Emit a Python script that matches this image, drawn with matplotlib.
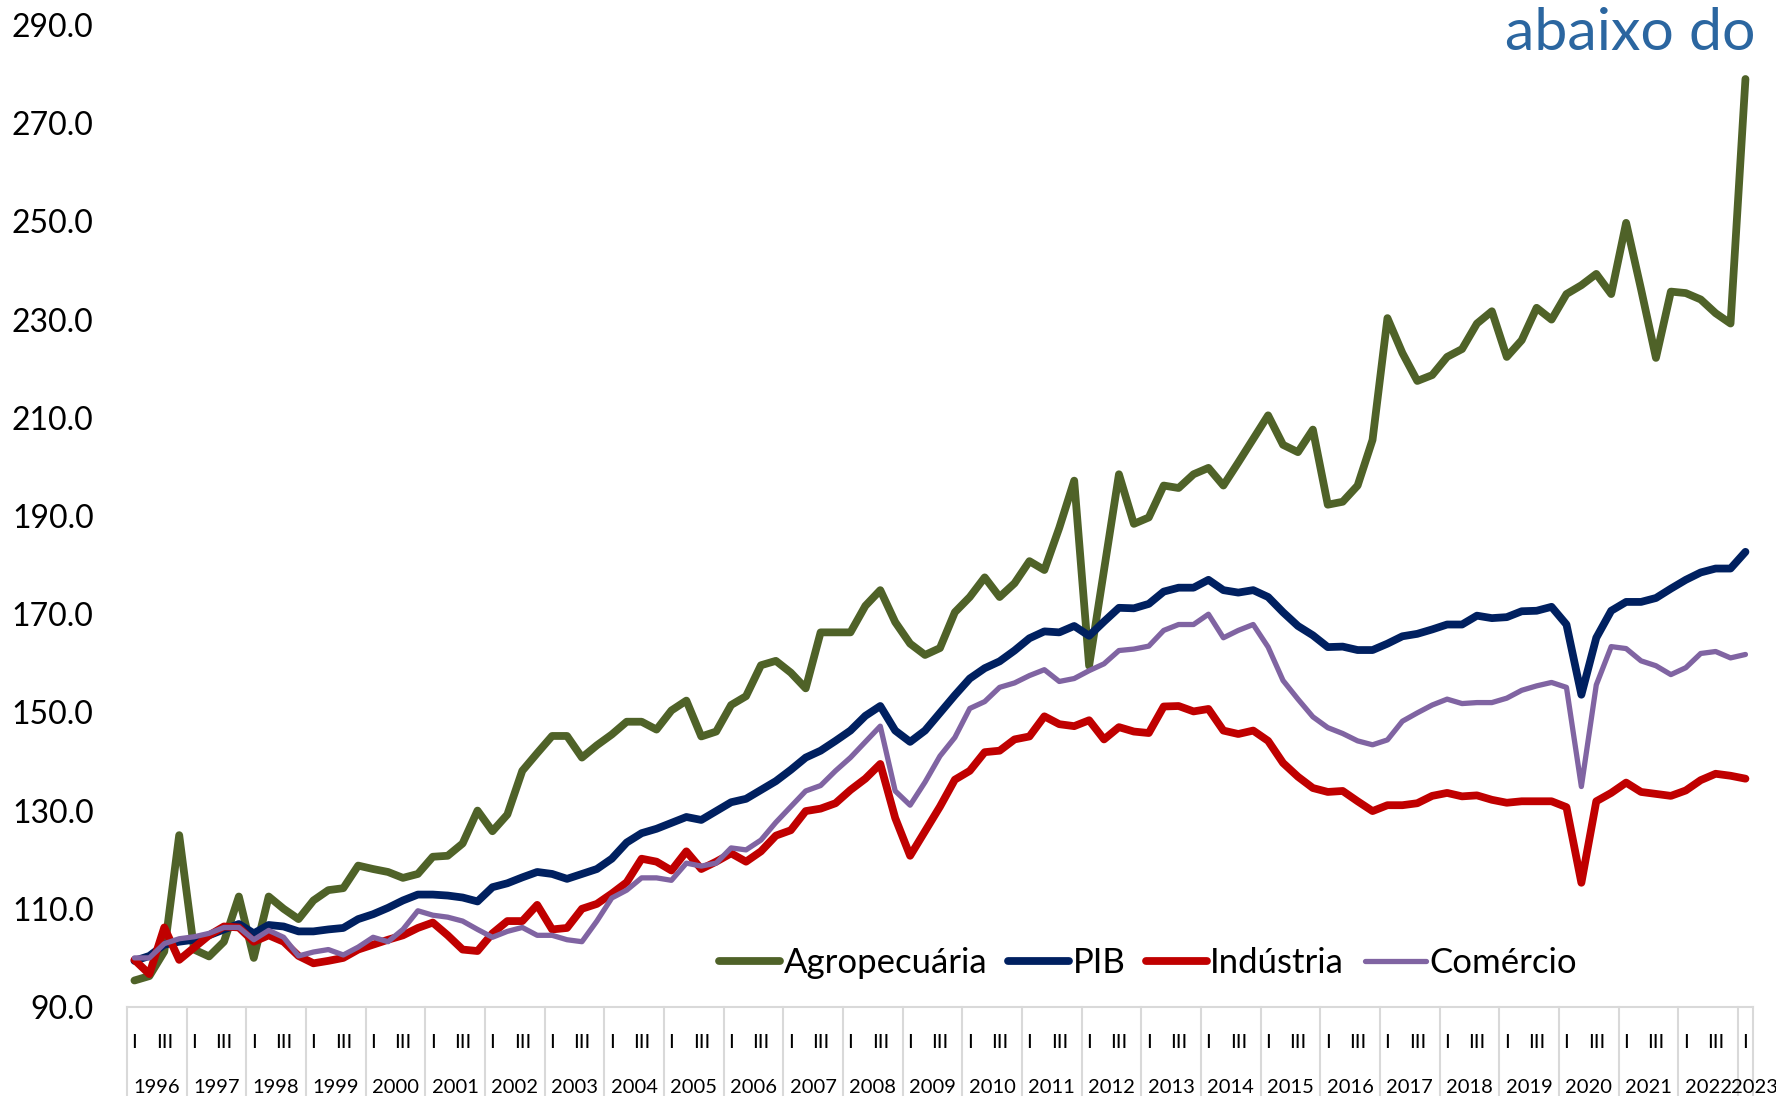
import numpy as np
import matplotlib.pyplot as plt

# Índices trimestrais (1996.I a 2023.I)
anos = list(range(1996, 2024))
trimestres = ['I', 'II', 'III', 'IV']

agropecuaria = [
    95.4, 96.3, 101.3, 125.0,    # 1996
    101.7, 100.3, 103.3, 112.5,  # 1997
    100.0, 112.5, 110.0, 107.9,  # 1998
    111.7, 113.8, 114.2, 118.8,  # 1999
    118.1, 117.5, 116.3, 117.1,  # 2000
    120.6, 120.8, 123.3, 130.0,  # 2001
    125.8, 129.2, 138.1, 141.7,  # 2002
    145.2, 145.2, 140.8, 143.3,  # 2003
    145.5, 148.1, 148.1, 146.5,  # 2004
    150.4, 152.4, 145.1, 146.1,  # 2005
    151.5, 153.3, 159.6, 160.5,  # 2006
    158.1, 154.9, 166.3, 166.3,  # 2007
    166.3, 171.7, 174.9, 168.4,  # 2008
    164.0, 161.7, 163.1, 170.4,  # 2009
    173.5, 177.5, 173.5, 176.3,  # 2010
    180.8, 179.0, 187.6, 197.2,  # 2011
    159.5, 179.0, 198.5, 188.4,  # 2012
    189.7, 196.2, 195.7, 198.5,  # 2013
    199.8, 196.2, 200.9, 205.7,  # 2014
    210.5, 204.5, 203.0, 207.6,  # 2015
    192.3, 192.9, 196.2, 205.5,  # 2016
    230.3, 223.2, 217.5, 218.7,  # 2017
    222.4, 224.0, 229.2, 231.7,  # 2018
    222.4, 225.8, 232.4, 230.0,  # 2019
    235.2, 237.0, 239.3, 235.2,  # 2020
    249.7, 236.2, 222.2, 235.7,  # 2021
    235.4, 234.1, 231.3, 229.2,  # 2022
    279.0,                       # 2023
]

pib = [
    99.4, 100.4, 102.7, 103.3,
    103.7, 104.6, 105.8, 106.9,
    105.0, 106.7, 106.4, 105.4,
    105.4, 105.8, 106.1, 107.9,
    108.9, 110.2, 111.7, 112.9,
    112.9, 112.7, 112.3, 111.5,
    114.4, 115.2, 116.4, 117.5,
    117.1, 116.1, 117.1, 118.1,
    120.2, 123.5, 125.4, 126.3,
    127.5, 128.7, 128.1, 129.9,
    131.7, 132.4, 134.2, 136.0,
    138.3, 140.8, 142.2, 144.2,
    146.3, 149.3, 151.3, 146.3,
    144.0, 146.3, 149.9, 153.5,
    156.9, 159.0, 160.4, 162.6,
    165.1, 166.5, 166.3, 167.6,
    165.6, 168.5, 171.3, 171.2,
    172.1, 174.6, 175.4, 175.4,
    177.0, 174.9, 174.4, 174.9,
    173.5, 170.4, 167.6, 165.7,
    163.3, 163.4, 162.7, 162.7,
    164.0, 165.5, 166.0, 166.9,
    167.9, 167.9, 169.7, 169.2,
    169.4, 170.6, 170.7, 171.5,
    167.9, 153.6, 165.2, 170.7,
    172.5, 172.5, 173.3, 175.2,
    177.0, 178.5, 179.3, 179.3,
    182.7,
]

industria = [
    99.6, 96.7, 106.2, 99.6,
    102.1, 104.6, 106.4, 106.2,
    103.3, 104.6, 103.3, 100.4,
    98.9, 99.4, 100.0, 101.7,
    102.7, 103.7, 104.6, 106.1,
    107.2, 104.6, 101.7, 101.4,
    105.0, 107.5, 107.5, 110.8,
    105.8, 106.1, 110.0, 111.0,
    113.1, 115.4, 120.2, 119.6,
    117.8, 121.7, 118.1, 119.6,
    121.3, 119.6, 121.7, 124.9,
    126.0, 129.9, 130.4, 131.5,
    134.2, 136.5, 139.5, 128.5,
    120.8, 125.8, 130.8, 136.3,
    138.1, 141.9, 142.2, 144.5,
    145.1, 149.2, 147.6, 147.2,
    148.4, 144.5, 147.0, 146.1,
    145.8, 151.2, 151.3, 150.2,
    150.7, 146.3, 145.6, 146.3,
    144.2, 139.7, 136.9, 134.6,
    133.8, 134.0, 131.9, 129.9,
    131.1, 131.1, 131.5, 133.0,
    133.6, 132.9, 133.1, 132.2,
    131.6, 131.9, 131.9, 131.9,
    130.7, 115.3, 131.9, 133.6,
    135.7, 133.8, 133.4, 133.0,
    134.1, 136.2, 137.5, 137.1,
    136.5,
]

comercio = [
    100.0, 100.0, 102.9, 103.9,
    104.3, 105.0, 106.2, 106.2,
    103.7, 105.6, 104.2, 100.4,
    101.2, 101.7, 100.6, 102.2,
    104.2, 103.3, 105.8, 109.6,
    108.7, 108.3, 107.5, 105.8,
    104.2, 105.4, 106.2, 104.6,
    104.6, 103.7, 103.3, 107.5,
    112.2, 113.8, 116.3, 116.3,
    115.8, 119.3, 118.7, 119.3,
    122.4, 122.0, 124.0, 127.6,
    130.8, 134.0, 135.1, 138.1,
    140.8, 144.0, 147.2, 134.0,
    131.1, 135.8, 141.1, 144.9,
    150.8, 152.2, 155.1, 156.0,
    157.5, 158.7, 156.3, 156.9,
    158.5, 159.9, 162.6, 162.9,
    163.5, 166.7, 167.9, 167.9,
    170.0, 165.2, 166.7, 167.9,
    163.3, 156.5, 152.7, 149.1,
    146.9, 145.7, 144.2, 143.4,
    144.4, 148.2, 149.9, 151.5,
    152.7, 151.8, 152.0, 152.0,
    152.9, 154.5, 155.4, 156.1,
    155.1, 134.9, 155.6, 163.4,
    163.0, 160.5, 159.5, 157.7,
    159.1, 162.0, 162.4, 161.1,
    161.8,
]

# categorias (ano, trimestre)
rotulos = []
for a in anos:
    n = 1 if a == anos[-1] else 4
    for q in trimestres[:n]:
        rotulos.append((a, q))
x = np.arange(len(rotulos))

plt.rcParams['font.family'] = ['Lato', 'DejaVu Sans']
fig = plt.figure(figsize=(17.76, 10.96), dpi=100)
ax = fig.add_axes([0.0715, 0.0812, 0.9155, 0.896])

estilo = dict(solid_capstyle='round', solid_joinstyle='round')
ax.plot(x, agropecuaria, color='#4F6228', lw=5.6, label='Agropecuária', **estilo)
ax.plot(x, pib, color='#002060', lw=5.6, label='PIB', **estilo)
ax.plot(x, industria, color='#C00000', lw=5.6, label='Indústria', **estilo)
ax.plot(x, comercio, color='#8064A2', lw=3.8, label='Comércio', **estilo)

ax.set_xlim(-0.5, len(x) - 0.5)
ax.set_ylim(90, 290)
ax.set_yticks(np.arange(90, 291, 20))
ax.yaxis.set_major_formatter(lambda v, p: f'{v:.1f}')
ax.tick_params(axis='y', length=0, labelsize=23, pad=24)
ax.set_xticks([])

for s in ['left', 'right', 'top']:
    ax.spines[s].set_visible(False)
ax.spines['bottom'].set_color('#D9D9D9')
ax.spines['bottom'].set_linewidth(1.5)

# eixo de categorias em dois níveis
tr = ax.get_xaxis_transform()
for i, (a, q) in enumerate(rotulos):
    if q in ('I', 'III'):
        ax.text(i, -0.036, q, transform=tr, ha='center', va='center', fontsize=14.5)

inicio = 0
for a in anos:
    n = sum(1 for r in rotulos if r[0] == a)
    ax.plot([inicio - 0.5] * 2, [0, -0.12], transform=tr, clip_on=False,
            color='#D9D9D9', lw=1.5)
    centro = inicio + (n - 1) / 2 + (0.6 if n == 1 else 0)
    ax.text(centro, -0.0815, str(a), transform=tr,
            ha='center', va='center', fontsize=14.5)
    inicio += n
ax.plot([inicio - 0.5] * 2, [0, -0.12], transform=tr, clip_on=False,
        color='#D9D9D9', lw=1.5)

ax.legend(loc='center', bbox_to_anchor=(0.6465, 0.1214), bbox_transform=fig.transFigure,
          ncol=4, frameon=False, fontsize=25, handlelength=1.75, handletextpad=0.1,
          columnspacing=0.6)

fig.text(0.9887, 1 - 50 / 1096, 'abaixo do', ha='right', va='baseline',
         fontsize=42.5, color='#2B66A0')

fig.savefig('out.png', dpi=100)
